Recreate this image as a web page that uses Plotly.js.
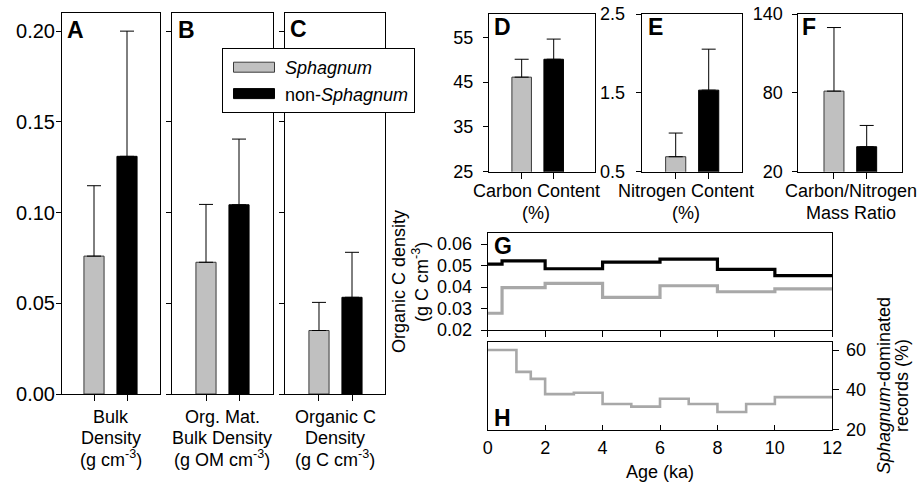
<!DOCTYPE html>
<html><head><meta charset="utf-8">
<script src="https://cdn.plot.ly/plotly-3.0.1.min.js"></script>
<style>html,body{margin:0;padding:0;background:#fff}</style>
</head><body><div id="chart" style="width:917px;height:485px"></div>
<script>
// ---------------- DATA ----------------
const groups = ['Sphagnum', 'non-Sphagnum'];
const groupLegendNames = ['<i>Sphagnum</i>', 'non-<i>Sphagnum</i>'];
const panelLetters = ['A', 'B', 'C', 'D', 'E', 'F'];
const variableLabels = [
  'Bulk<br>Density<br>(g cm<sup>-3</sup>)',
  'Org. Mat.<br>Bulk Density<br>(g OM cm<sup>-3</sup>)',
  'Organic C<br>Density<br>(g C cm<sup>-3</sup>)',
  'Carbon Content<br>(%)',
  'Nitrogen Content<br>(%)',
  'Carbon/Nitrogen<br>Mass Ratio'
];
const sphagnumMean    = [0.076, 0.0726, 0.035, 46.1, 0.69, 81.3];
const sphagnumSD      = [0.0388, 0.0319, 0.0155, 4.0, 0.30, 48.4];
const nonSphagnumMean = [0.131, 0.1043, 0.0533, 50.1, 1.534, 39.0];
const nonSphagnumSD   = [0.069, 0.0362, 0.0248, 4.5, 0.52, 16.2];
const yTickVals = [
  [0, 0.05, 0.10, 0.15, 0.20],
  [0, 0.05, 0.10, 0.15, 0.20],
  [0, 0.05, 0.10, 0.15, 0.20],
  [25, 35, 45, 55],
  [0.5, 1.5, 2.5],
  [20, 80, 140]
];
const yTickText = [
  ['0.00', '0.05', '0.10', '0.15', '0.20'],
  null,
  null,
  ['25', '35', '45', '55'],
  ['0.5', '1.5', '2.5'],
  ['20', '80', '140']
];

// Panel G: organic C density through time (step series, last value closes the step)
const gAge = [0, 0.5, 2, 4, 6, 8, 10, 12];
const gSphagnumOC    = [0.0278, 0.0397, 0.0417, 0.0352, 0.0406, 0.0378, 0.0391, 0.0391];
const gNonSphagnumOC = [0.0507, 0.0522, 0.0485, 0.0516, 0.0530, 0.0482, 0.0453, 0.0453];
const gTickVals = [0.02, 0.03, 0.04, 0.05, 0.06];
const gTickText = ['0.02', '0.03', '0.04', '0.05', '0.06'];

// Panel H: share of Sphagnum-dominated records
const hAge = [0, 1, 1.5, 2, 3, 4, 5, 6, 7, 8, 9, 10, 12];
const hSphagnumPct = [60, 49, 45.5, 37.8, 38.5, 32.8, 31.5, 35.5, 32.8, 28.8, 32.8, 36.3, 36.3];
const hTickVals = [20, 40, 60];
const ageTickVals = [0, 2, 4, 6, 8, 10, 12];
const ageTickText = ['0', '2', '4', '6', '8', '10', '12'];

// ---------------- STYLE / LAYOUT ----------------
const W = 917, H = 485;
const FONT = 'Arial, "Liberation Sans", sans-serif';
const GRAY = '#c0c0c0', BLACK = '#000000', LINEGRAY = '#a8a8a8';
const px = v => v / W;
const py = v => 1 - v / H;

// boxes in px: [left, right, top, bottom]
const boxes = [
  [62, 160, 13, 394], [172, 273, 13, 394], [285, 385, 13, 394],
  [489, 595, 14, 171.7], [641.7, 741.7, 14, 171.7], [798.3, 901.7, 14, 171.7]
];
const xRanges = [[-0.97, 2.0], [-1.03, 2.03], [-1.03, 2.0], [-1.02, 2.29], [-1.03, 2.0], [-1.09, 2.07]];
const yRanges = [[0, 0.21], [0, 0.21], [0, 0.21], [25, 60.2], [0.5, 2.5], [20, 140]];
const tickFontSize = [20, 18, 18, 18, 18, 18];
const labelStandoff = [-3, 0, 0, 6, 7, 6];
const letterPos = [[65, 30], [176, 30], [288, 29], [492, 27], [646, 27], [800, 27]];
const labelCenters = [111, 222, 335, 536, 686, 851];
const labelFirstY = [417, 417, 417, 191.5, 191.5, 191.5];
const labelStep = [20.7, 20.7, 20.7, 21.5, 21.5, 21.5];

const traces = [];
const layout = {
  width: W, height: H, autosize: false,
  margin: {l: 0, r: 0, t: 0, b: 0},
  paper_bgcolor: '#fff', plot_bgcolor: '#fff',
  font: {family: FONT, size: 18, color: '#000'},
  barmode: 'overlay',
  showlegend: true,
  legend: {
    x: px(222), y: py(48), xanchor: 'left', yanchor: 'top',
    bgcolor: '#fff', bordercolor: '#000', borderwidth: 1,
    font: {family: FONT, size: 18, color: '#000'},
    itemwidth: 52, tracegroupgap: 0, traceorder: 'normal'
  },
  annotations: []
};

const axisBase = {
  showline: true, mirror: true, linecolor: '#000', linewidth: 1,
  showgrid: false, zeroline: false, ticks: 'outside', ticklen: 5, tickwidth: 1, tickcolor: '#000',
  tickfont: {family: FONT, size: 18, color: '#000'}, fixedrange: true
};

for (let i = 0; i < 6; i++) {
  const n = i + 1;
  const xa = 'x' + (n === 1 ? '' : n), ya = 'y' + (n === 1 ? '' : n);
  const xk = 'xaxis' + (n === 1 ? '' : n), yk = 'yaxis' + (n === 1 ? '' : n);
  const b = boxes[i];
  layout[xk] = Object.assign({}, axisBase, {
    domain: [px(b[0]), px(b[1])], anchor: ya, type: 'category',
    categoryorder: 'array', categoryarray: groups,
    range: xRanges[i], showticklabels: false, ticklen: 6
  });
  const yax = Object.assign({}, axisBase, {
    domain: [py(b[3]), py(b[2])], anchor: xa, range: yRanges[i],
    tickmode: 'array', tickvals: yTickVals[i],
    tickfont: {family: FONT, size: tickFontSize[i], color: '#000'},
    ticklabelstandoff: labelStandoff[i]
  });
  if (yTickText[i]) yax.ticktext = yTickText[i]; else yax.showticklabels = false;
  layout[yk] = yax;
  traces.push({
    type: 'bar', x: [groups[0]], y: [sphagnumMean[i]], xaxis: xa, yaxis: ya,
    name: groupLegendNames[0], showlegend: i === 0, legendrank: 1, width: 0.61,
    marker: {color: GRAY, line: {color: '#3a3a3a', width: 1}},
    error_y: {type: 'data', symmetric: false, array: [sphagnumSD[i]], arrayminus: [0],
              color: '#000', thickness: 1, width: 7}
  });
  traces.push({
    type: 'bar', x: [groups[1]], y: [nonSphagnumMean[i]], xaxis: xa, yaxis: ya,
    name: groupLegendNames[1], showlegend: i === 0, legendrank: 2, width: 0.61,
    marker: {color: BLACK, line: {color: '#000', width: 1}},
    error_y: {type: 'data', symmetric: false, array: [nonSphagnumSD[i]], arrayminus: [0],
              color: '#000', thickness: 1, width: 7}
  });
  // panel letter
  layout.annotations.push({
    xref: 'paper', yref: 'paper', x: px(letterPos[i][0]), y: py(letterPos[i][1]),
    xanchor: 'left', yanchor: 'middle', showarrow: false,
    text: '<b>' + panelLetters[i] + '</b>', font: {family: FONT, size: 23, color: '#000'}
  });
  // multi-line variable label
  variableLabels[i].split('<br>').forEach((line, j) => {
    layout.annotations.push({
      xref: 'paper', yref: 'paper', x: px(labelCenters[i]), y: py(labelFirstY[i] + j * labelStep[i]),
      xanchor: 'center', yanchor: 'middle', showarrow: false,
      text: line, font: {family: FONT, size: 18, color: '#000'}
    });
  });
}

// ----- G and H panels -----
const gBox = [487.7, 832.3, 233.3, 330];
const hBox = [487.7, 832.3, 341.7, 429.5];
layout.xaxis7 = Object.assign({}, axisBase, {
  domain: [px(gBox[0]), px(gBox[1])], anchor: 'y7', range: [0, 12],
  tickmode: 'array', tickvals: ageTickVals, showticklabels: false, ticklen: 6
});
layout.yaxis7 = Object.assign({}, axisBase, {
  domain: [py(gBox[3]), py(gBox[2])], anchor: 'x7', range: [0.02, 0.065],
  tickmode: 'array', tickvals: gTickVals, ticktext: gTickText, ticklen: 6, ticklabelstandoff: 5
});
layout.xaxis8 = Object.assign({}, axisBase, {
  domain: [px(hBox[0]), px(hBox[1])], anchor: 'y8', range: [0, 12],
  tickmode: 'array', tickvals: ageTickVals, ticktext: ageTickText,
  ticks: 'inside', ticklen: 5, ticklabelstandoff: 2
});
layout.yaxis8 = Object.assign({}, axisBase, {
  domain: [py(hBox[3]), py(hBox[2])], anchor: 'x8', side: 'right', range: [20, 64.2],
  tickmode: 'array', tickvals: hTickVals, ticklen: 6, ticklabelstandoff: 3
});

traces.push({
  type: 'scatter', mode: 'lines', x: gAge, y: gNonSphagnumOC, xaxis: 'x7', yaxis: 'y7',
  line: {shape: 'hv', color: '#000', width: 3.2}, showlegend: false
});
traces.push({
  type: 'scatter', mode: 'lines', x: gAge, y: gSphagnumOC, xaxis: 'x7', yaxis: 'y7',
  line: {shape: 'hv', color: LINEGRAY, width: 3.2}, showlegend: false
});
traces.push({
  type: 'scatter', mode: 'lines', x: hAge, y: hSphagnumPct, xaxis: 'x8', yaxis: 'y8',
  line: {shape: 'hv', color: LINEGRAY, width: 2.6}, showlegend: false
});

layout.annotations.push(
  {xref: 'paper', yref: 'paper', x: px(492), y: py(246), xanchor: 'left', yanchor: 'middle',
   showarrow: false, text: '<b>G</b>', font: {family: FONT, size: 23, color: '#000'}},
  {xref: 'paper', yref: 'paper', x: px(492), y: py(418), xanchor: 'left', yanchor: 'middle',
   showarrow: false, text: '<b>H</b>', font: {family: FONT, size: 23, color: '#000'}},
  {xref: 'paper', yref: 'paper', x: px(399), y: py(282), xanchor: 'center', yanchor: 'middle',
   showarrow: false, textangle: -90, text: 'Organic C density', font: {family: FONT, size: 18, color: '#000'}},
  {xref: 'paper', yref: 'paper', x: px(420), y: py(282), xanchor: 'center', yanchor: 'middle',
   showarrow: false, textangle: -90, text: '(g C cm<sup>-3</sup>)', font: {family: FONT, size: 18, color: '#000'}},
  {xref: 'paper', yref: 'paper', x: px(884), y: py(386), xanchor: 'center', yanchor: 'middle',
   showarrow: false, textangle: -90, text: '<i>Sphagnum</i>-dominated', font: {family: FONT, size: 18, color: '#000'}},
  {xref: 'paper', yref: 'paper', x: px(902), y: py(386), xanchor: 'center', yanchor: 'middle',
   showarrow: false, textangle: -90, text: 'records (%)', font: {family: FONT, size: 18, color: '#000'}},
  {xref: 'paper', yref: 'paper', x: px(660), y: py(472), xanchor: 'center', yanchor: 'middle',
   showarrow: false, text: 'Age (ka)', font: {family: FONT, size: 18, color: '#000'}}
);

Plotly.newPlot('chart', traces, layout, {staticPlot: true, displayModeBar: false}).then(gd => {
  gd.querySelectorAll('.legend .legendpoints path').forEach(p => {
    p.setAttribute('d', 'M20.5,5H-20.5V-5H20.5Z');
  });
});
</script>
</body></html>
